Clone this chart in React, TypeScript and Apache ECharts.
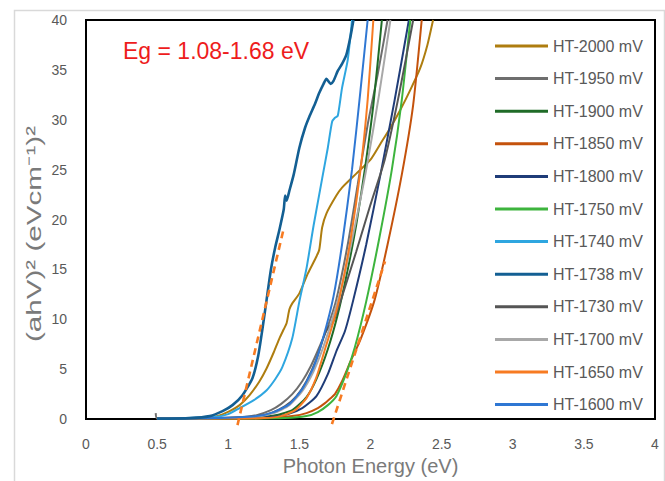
import React, { useEffect, useRef } from "react";
import * as echarts from "echarts";

const X_TICKS = [0, 0.5, 1, 1.5, 2, 2.5, 3, 3.5, 4];
const Y_TICKS = [0, 5, 10, 15, 20, 25, 30, 35, 40];

const ht2000 = [[0.5,0.05],[0.8,0.1],[0.92,0.3],[1.01,0.8],[1.08,1.4],[1.15,2.4],[1.22,3.8],[1.27,5.1],[1.32,6.7],[1.36,8.1],[1.39,9.0],[1.41,9.6],[1.43,11.0],[1.45,11.6],[1.50,12.6],[1.56,14.6],[1.62,16.3],[1.64,17.0],[1.66,19.2],[1.69,20.6],[1.76,22.4],[1.80,23.2],[1.90,24.6],[2.0,26.0],[2.07,27.6],[2.14,29.2],[2.21,31.0],[2.28,33.0],[2.35,35.2],[2.40,37.5],[2.44,40]];
const ht1950 = [[0.49,0.6],[0.5,0.05],[0.9,0.1],[1.1,0.2],[1.2,0.4],[1.3,0.9],[1.37,1.5],[1.45,2.5],[1.52,3.8],[1.58,5.3],[1.64,7.2],[1.70,9.3],[1.76,12.0],[1.84,17.5],[1.91,23.5],[1.98,29.5],[2.05,34.5],[2.12,40]];
const ht1900 = [[0.5,0.05],[1.0,0.1],[1.3,0.3],[1.45,0.9],[1.55,2.2],[1.62,4.0],[1.70,7.0],[1.77,10.5],[1.84,15.0],[1.90,19.5],[1.96,25.0],[2.02,31.5],[2.08,40]];
const ht1850 = [[0.5,0.05],[1.0,0.05],[1.3,0.1],[1.45,0.3],[1.55,0.6],[1.63,1.1],[1.68,1.6],[1.72,2.1],[1.75,2.5],[1.80,3.8],[1.86,5.8],[1.93,8.0],[2.03,12.0],[2.12,17.5],[2.22,24.5],[2.30,31.5],[2.36,40]];
const ht1800 = [[0.5,0.05],[1.0,0.1],[1.3,0.2],[1.42,0.5],[1.52,1.1],[1.62,2.3],[1.70,4.5],[1.76,6.8],[1.82,8.8],[1.88,12.0],[1.97,17.5],[2.07,24.5],[2.17,32.0],[2.27,40]];
const ht1750 = [[0.5,0.05],[1.0,0.05],[1.4,0.1],[1.55,0.3],[1.63,0.7],[1.70,1.4],[1.76,2.3],[1.83,4.6],[1.89,7.2],[1.97,11.8],[2.06,18.0],[2.15,25.0],[2.22,32.0],[2.28,40]];
const ht1740 = [[0.5,0.05],[0.9,0.2],[1.0,0.5],[1.08,1.1],[1.18,1.9],[1.27,2.9],[1.33,4.0],[1.38,5.2],[1.45,8.1],[1.50,11.8],[1.55,15.1],[1.60,19.4],[1.66,24.1],[1.70,27.2],[1.73,29.8],[1.75,30.2],[1.77,30.4],[1.80,33.2],[1.84,36.0],[1.87,40]];
const ht1738 = [[0.5,0.05],[0.73,0.1],[0.87,0.3],[0.96,0.8],[1.03,1.4],[1.10,2.4],[1.17,4.1],[1.21,6.3],[1.24,9.0],[1.27,12.0],[1.30,15.0],[1.33,17.2],[1.36,19.0],[1.39,21.0],[1.40,22.4],[1.41,21.9],[1.43,22.9],[1.46,24.5],[1.50,27.2],[1.54,29.2],[1.57,30.3],[1.61,31.6],[1.64,32.7],[1.67,33.6],[1.69,34.1],[1.72,33.6],[1.74,33.9],[1.77,34.9],[1.80,35.6],[1.83,36.5],[1.86,38.4],[1.88,40]];
const ht1730 = [[0.5,0.05],[1.0,0.1],[1.2,0.3],[1.3,0.6],[1.40,1.3],[1.48,2.3],[1.55,3.8],[1.62,6.0],[1.68,8.6],[1.71,9.3],[1.74,9.8],[1.80,12.3],[1.90,16.8],[2.0,21.5],[2.10,26.0],[2.20,32.5],[2.30,40]];
const ht1700 = [[0.5,0.05],[1.0,0.1],[1.2,0.25],[1.32,0.6],[1.43,1.4],[1.52,2.8],[1.60,4.8],[1.67,7.3],[1.74,10.4],[1.81,14.0],[1.89,19.3],[1.97,25.0],[2.06,32.5],[2.14,40]];
const ht1650 = [[0.5,0.05],[1.0,0.05],[1.25,0.1],[1.37,0.3],[1.47,0.9],[1.55,2.1],[1.62,4.2],[1.68,7.0],[1.73,9.3],[1.78,12.0],[1.86,18.0],[1.93,25.0],[1.98,32.0],[2.02,40]];
const ht1600 = [[0.5,0.05],[0.9,0.1],[1.2,0.3],[1.32,0.7],[1.43,1.5],[1.52,3.0],[1.60,5.2],[1.67,8.3],[1.74,12.3],[1.80,17.5],[1.87,25.0],[1.93,33.0],[1.98,40]];
const fitLow = [[1.065,-0.6],[1.385,18.8]];
const fitHigh = [[1.729,-0.5],[2.102,15.8]];

const NAMES = ["HT-2000 mV","HT-1950 mV","HT-1900 mV","HT-1850 mV","HT-1800 mV","HT-1750 mV","HT-1740 mV","HT-1738 mV","HT-1730 mV","HT-1700 mV","HT-1650 mV","HT-1600 mV"];
const DATA = [ht2000, ht1950, ht1900, ht1850, ht1800, ht1750, ht1740, ht1738, ht1730, ht1700, ht1650, ht1600];
const COLORS = ["#ae7d0f","#6e6e6e","#1f6b27","#c4520c","#1f3c78","#3db43d","#2ea6e0","#135f93","#555555","#a8a8a8","#f77b22","#2f77d3"];

const FONT = '"Liberation Sans", Arial, sans-serif';

export default function App() {
  const ref = useRef<HTMLDivElement>(null);
  useEffect(() => {
    if (!ref.current) return;
    const chart = echarts.init(ref.current, undefined, { renderer: "svg" });
    const lineSeries = NAMES.map((name, i) => ({
      name,
      type: "line",
      data: DATA[i],
      symbol: "none",
      smooth: 0.2,
      lineStyle: { color: COLORS[i], width: i === 7 ? 2.6 : 2 },
      itemStyle: { color: COLORS[i] },
      z: i === 7 ? 4 : 3,
    }));
    const fitSeries = [fitLow, fitHigh].map((d, i) => ({
      name: "fit" + i,
      type: "line",
      data: d,
      symbol: "none",
      clip: false,
      silent: true,
      lineStyle: { color: "#f77b22", width: 2.6, type: [7, 5] },
      z: 5,
    }));
    chart.setOption({
      animation: false,
      backgroundColor: "#ffffff",
      textStyle: { fontFamily: FONT },
      grid: {
        left: 86, top: 20, right: 10, bottom: 60,
        show: true, borderColor: "#000000", borderWidth: 2, backgroundColor: "transparent",
      },
      xAxis: {
        type: "value",
        min: X_TICKS[0], max: X_TICKS[X_TICKS.length - 1], interval: 0.5,
        splitLine: { show: false }, axisTick: { show: false },
        axisLine: { show: false },
        axisLabel: { color: "#595959", fontSize: 14, margin: 18, fontFamily: FONT },
        name: "Photon Energy (eV)", nameLocation: "middle", nameGap: 36,
        nameTextStyle: { color: "#7a7a7a", fontSize: 20, fontFamily: FONT },
      },
      yAxis: {
        type: "value",
        min: Y_TICKS[0], max: Y_TICKS[Y_TICKS.length - 1], interval: 5,
        splitLine: { show: false }, axisTick: { show: false },
        axisLine: { show: false },
        axisLabel: { color: "#595959", fontSize: 14, margin: 19, fontFamily: FONT },
      },
      legend: {
        data: NAMES,
        orient: "vertical",
        left: 490, top: 33,
        itemWidth: 53, itemHeight: 3, itemGap: 16.6,
        icon: "rect",
        textStyle: { color: "#595959", fontSize: 16, lineHeight: 15, fontFamily: FONT },
        selectedMode: false,
      },
      graphic: [
        { type: "rect", left: 12, top: 8, shape: { x: 0, y: 0, width: 650, height: 490 }, style: { fill: "none", stroke: "#d9d9d9", lineWidth: 1.5 }, silent: true, z: -1 },
        { type: "text", left: 123, top: 39, style: { text: "Eg = 1.08-1.68 eV", fill: "#ee1c1c", font: `23px ${FONT}` } },
        {
          type: "text", x: 34, y: 234, rotation: Math.PI / 2, scaleX: 1.48,
          style: { text: "(ahV)² (eVcm⁻¹)²", fill: "#7a7a7a", font: `20px ${FONT}`, align: "center", verticalAlign: "middle" },
        },
      ],
      series: [...lineSeries, ...fitSeries],
    });
    return () => chart.dispose();
  }, []);
  return <div ref={ref} style={{ position: "fixed", left: 0, top: 0, width: 665, height: 481 }} />;
}
